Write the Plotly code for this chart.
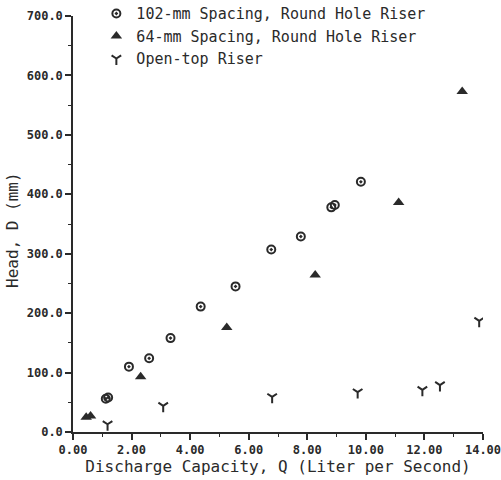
import plotly.graph_objects as go

# Data
q_102 = [1.12, 1.20, 1.91, 2.60, 3.33, 4.36, 5.55, 6.77, 7.78, 8.82, 8.94, 9.83]
d_102 = [56, 58, 110, 124, 158, 211, 245, 307, 329, 378, 382, 421]

q_64 = [0.45, 0.60, 2.31, 5.25, 8.27, 11.12, 13.29]
d_64 = [25, 27, 93, 176, 264, 386, 573]

q_open = [1.18, 3.08, 6.80, 9.72, 11.93, 12.53, 13.87]
d_open = [13, 44, 59, 67, 71, 79, 187]

x_ticks = [0, 2, 4, 6, 8, 10, 12, 14]
y_ticks = [0, 100, 200, 300, 400, 500, 600, 700]

FONT = "DejaVu Sans Mono"
INK = "#2a2a2a"

fig = go.Figure()
fig.add_trace(go.Scatter(
    x=q_102, y=d_102, mode="markers", name="102-mm Spacing, Round Hole Riser",
    marker=dict(symbol="circle-open-dot", size=8, color=INK, line=dict(width=2, color=INK)),
))
fig.add_trace(go.Scatter(
    x=q_64, y=d_64, mode="markers", name="64-mm Spacing, Round Hole Riser",
    marker=dict(symbol="triangle-up", size=10, color=INK, line=dict(width=0)),
))
fig.add_trace(go.Scatter(
    x=q_open, y=d_open, mode="markers", name="Open-top Riser",
    marker=dict(symbol="y-down", size=8, color=INK, line=dict(width=2, color=INK)),
))

axis_common = dict(
    showgrid=False, zeroline=False, showline=True, linecolor=INK, linewidth=1.5,
    ticks="outside", ticklen=6, tickwidth=1.5, tickcolor=INK,
    tickfont=dict(family=FONT, size=12, color=INK, weight="bold"),
    ticklabeloverflow="allow",
)

fig.update_xaxes(
    range=[0, 14], tickvals=x_ticks, ticktext=[f"{v:.2f}" for v in x_ticks],
    minor=dict(dtick=1, ticklen=3, tickwidth=1.2, tickcolor=INK, ticks="outside"),
    title=dict(text="Discharge Capacity, Q (Liter per Second)",
               font=dict(family=FONT, size=16, color=INK), standoff=4),
    **axis_common,
)
fig.update_yaxes(
    range=[0, 700], tickvals=y_ticks, ticktext=[f"{v:.1f}" for v in y_ticks],
    minor=dict(dtick=50, ticklen=3, tickwidth=1.2, tickcolor=INK, ticks="outside"),
    **axis_common,
)

fig.add_annotation(
    text="Head, D (mm)", textangle=-90, xref="paper", yref="paper",
    x=-0.146, y=0.486, showarrow=False, xanchor="center", yanchor="middle",
    font=dict(family=FONT, size=16, color=INK),
)

fig.update_layout(
    width=501, height=480,
    margin=dict(l=73, r=18, t=16, b=48, autoexpand=False),
    paper_bgcolor="white", plot_bgcolor="white",
    font=dict(family=FONT, color=INK),
    legend=dict(
        x=0.057, y=1.045, xanchor="left", yanchor="top",
        bgcolor="rgba(0,0,0,0)", tracegroupgap=0,
        font=dict(family=FONT, size=15, color=INK),
    ),
    showlegend=True,
)

fig.write_html(
    "out.html",
    config={"displayModeBar": False},
    post_script="document.body.style.margin='0';document.body.style.padding='0';",
)
